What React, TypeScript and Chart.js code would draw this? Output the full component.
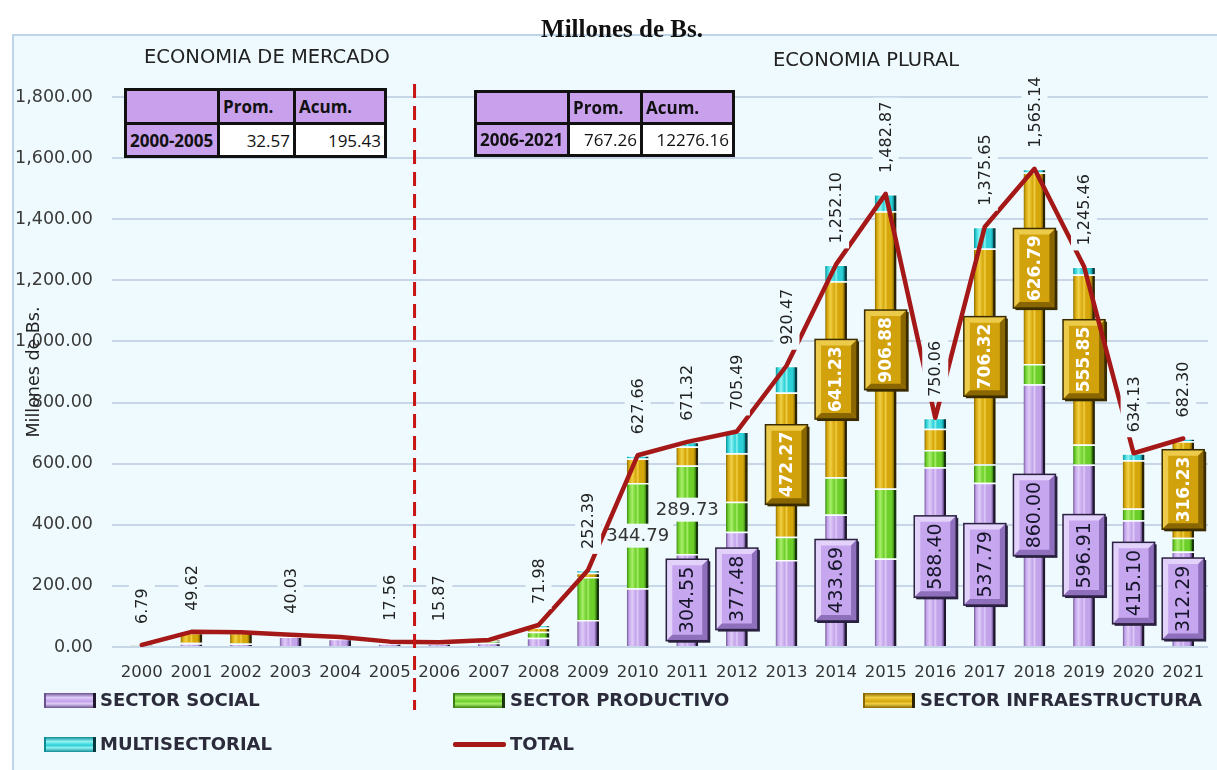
import React, { useEffect, useRef } from 'react';
import { Chart, registerables } from 'chart.js';

Chart.register(...registerables);

// ---------------- DATA ----------------
const years = ['2000', '2001', '2002', '2003', '2004', '2005', '2006', '2007', '2008', '2009', '2010',
  '2011', '2012', '2013', '2014', '2015', '2016', '2017', '2018', '2019', '2020', '2021'];

const sectorSocial = [4.5, 12, 10, 34, 27, 12, 12, 14, 30, 88, 192, 304.55, 377.48, 285, 433.69, 290,
  588.40, 537.79, 860.00, 596.91, 415.10, 312.29];
const sectorProductivo = [0.5, 2, 2, 1, 1, 1, 1, 6, 20, 141, 344.79, 289.73, 98, 76, 122, 229,
  56, 60, 66, 66, 38, 45];
const sectorInfraestructura = [1.5, 33, 35, 4, 4, 3, 2, 2, 14, 14, 80, 62, 159, 472.27, 641.23, 906.88,
  70, 706.32, 626.79, 555.85, 158, 316.23];
const multisectorial = [0.29, 2.62, 1.5, 1.03, 0.94, 1.56, 0.87, 1.27, 7.98, 9.39, 10.87, 15.04, 71.01, 87.2,
  55.18, 56.99, 35.66, 71.54, 12.35, 26.7, 23.03, 8.78];
const totalValues = [6.79, 49.62, 48.5, 40.03, 32.94, 17.56, 15.87, 23.27, 71.98, 252.39, 627.66, 671.32,
  705.49, 920.47, 1252.10, 1482.87, 750.06, 1375.65, 1565.14, 1245.46, 634.13, 682.30];

const yMin = 0;
const yMax = 1800;
const yStep = 200;

const socialLabelYears = ['2011', '2012', '2014', '2016', '2017', '2018', '2019', '2020', '2021'];
const infraLabelYears = ['2013', '2014', '2015', '2017', '2018', '2019', '2021'];
const productivoLabelYears = ['2010', '2011'];
const totalUnlabeledYears = ['2002', '2004', '2007'];

const tableHeaders = ['', 'Prom.', 'Acum.'];
const tableMercado = ['2000-2005', '32.57', '195.43'];
const tablePlural = ['2006-2021', '767.26', '12276.16'];

const seriesNames = ['SECTOR SOCIAL', 'SECTOR PRODUCTIVO', 'SECTOR INFRAESTRUCTURA', 'MULTISECTORIAL', 'TOTAL'];

// ---------------- STYLE ----------------
const BG = '#EEFAFD';
const LINE_RED = '#A51818';
const BAR_FRAC = 0.44;

type Pal = { dark: string; mid: string; light: string; edge: string };
const PAL: Record<string, Pal> = {
  social: { dark: '#6A5290', mid: '#C3A3EA', light: '#DFCCF8', edge: '#221830' },
  productivo: { dark: '#3A8512', mid: '#6DCF2A', light: '#AAEE6C', edge: '#17360A' },
  infra: { dark: '#8A6A00', mid: '#D5A70B', light: '#F1CF45', edge: '#2E2300' },
  multi: { dark: '#0E8C96', mid: '#2CD0D6', light: '#92F3F3', edge: '#063A3E' },
};

function fmt(v: number): string {
  const s = v.toFixed(2);
  const [i, d] = s.split('.');
  return i.replace(/\B(?=(\d{3})+(?!\d))/g, ',') + '.' + d;
}

function barGradient(p: Pal) {
  return (ctx: any) => {
    if (ctx.type !== 'data') return p.mid;
    const chart = ctx.chart;
    const xs = chart.scales && chart.scales.x;
    if (!xs || !chart.chartArea) return p.mid;
    const x = xs.getPixelForValue(ctx.dataIndex);
    const w = (xs.width / years.length) * BAR_FRAC;
    if (!isFinite(x) || !isFinite(w) || w <= 0) return p.mid;
    const g = chart.ctx.createLinearGradient(x - w / 2, 0, x + w / 2, 0);
    g.addColorStop(0, p.dark);
    g.addColorStop(0.1, p.mid);
    g.addColorStop(0.25, p.light);
    g.addColorStop(0.42, p.mid);
    g.addColorStop(0.5, p.light);
    g.addColorStop(0.58, p.mid);
    g.addColorStop(0.78, p.mid);
    g.addColorStop(0.88, p.dark);
    g.addColorStop(0.9, p.edge);
    g.addColorStop(1, p.edge);
    return g;
  };
}

function poly(ctx: CanvasRenderingContext2D, pts: number[][], color: string) {
  ctx.beginPath();
  ctx.moveTo(pts[0][0], pts[0][1]);
  for (let i = 1; i < pts.length; i++) ctx.lineTo(pts[i][0], pts[i][1]);
  ctx.closePath();
  ctx.fillStyle = color;
  ctx.fill();
}

function bevelBox(ctx: CanvasRenderingContext2D, cx: number, cy: number, w: number, h: number,
  face: string, light: string, dark: string, edge: string) {
  const x0 = cx - w / 2, y0 = cy - h / 2, x1 = cx + w / 2, y1 = cy + h / 2, b = 6;
  ctx.fillStyle = edge;
  ctx.fillRect(x0 + 2, y0 + 2, w, h);
  ctx.fillStyle = face;
  ctx.fillRect(x0, y0, w, h);
  poly(ctx, [[x0, y0], [x1, y0], [x1 - b, y0 + b], [x0 + b, y0 + b]], light);
  poly(ctx, [[x0, y0], [x0 + b, y0 + b], [x0 + b, y1 - b], [x0, y1]], light);
  poly(ctx, [[x0, y1], [x0 + b, y1 - b], [x1 - b, y1 - b], [x1, y1]], dark);
  poly(ctx, [[x1, y0], [x1, y1], [x1 - b, y1 - b], [x1 - b, y0 + b]], dark);
  ctx.strokeStyle = edge;
  ctx.lineWidth = 1.5;
  ctx.strokeRect(x0, y0, w, h);
}

function rotatedText(ctx: CanvasRenderingContext2D, txt: string, cx: number, cy: number) {
  ctx.save();
  ctx.translate(cx, cy);
  ctx.rotate(-Math.PI / 2);
  ctx.textAlign = 'center';
  ctx.textBaseline = 'middle';
  ctx.fillText(txt, 0, 1);
  ctx.restore();
}

const labelsPlugin = {
  id: 'customLabels',
  afterDatasetDraw(chart: any, args: any) {
    if (args.index !== 1) return; // social is the last bar dataset drawn
    const ctx: CanvasRenderingContext2D = chart.ctx;
    ctx.save();
    const mS = chart.getDatasetMeta(1);
    socialLabelYears.forEach((yr) => {
      const i = years.indexOf(yr);
      const el = mS.data[i];
      const { x, y, base } = el.getProps(['x', 'y', 'base'], true);
      const txt = sectorSocial[i].toFixed(2);
      ctx.font = '19px "DejaVu Sans"';
      const tw = ctx.measureText(txt).width;
      const cy = (y + base) / 2;
      bevelBox(ctx, x, cy, 42, tw + 15, '#C6A6EE', '#E3D2FA', '#8E6FBC', '#2A2040');
      ctx.fillStyle = '#16162A';
      rotatedText(ctx, txt, x, cy);
    });
    const mI = chart.getDatasetMeta(3);
    infraLabelYears.forEach((yr) => {
      const i = years.indexOf(yr);
      const el = mI.data[i];
      const { x, y, base } = el.getProps(['x', 'y', 'base'], true);
      const txt = sectorInfraestructura[i].toFixed(2);
      ctx.font = 'bold 17px "DejaVu Sans"';
      const tw = ctx.measureText(txt).width;
      const cy = (y + base) / 2;
      bevelBox(ctx, x, cy, 42, tw + 14, '#D2A20C', '#EDCB4A', '#8A6600', '#3A2C00');
      ctx.fillStyle = '#FFFFFF';
      rotatedText(ctx, txt, x, cy);
    });
    const mP = chart.getDatasetMeta(2);
    productivoLabelYears.forEach((yr) => {
      const i = years.indexOf(yr);
      const el = mP.data[i];
      const { x, y, base } = el.getProps(['x', 'y', 'base'], true);
      const txt = sectorProductivo[i].toFixed(2);
      ctx.font = '18px "DejaVu Sans"';
      const tw = ctx.measureText(txt).width;
      const cy = (y + base) / 2;
      ctx.fillStyle = BG;
      ctx.fillRect(x - tw / 2 - 4, cy - 12, tw + 8, 24);
      ctx.fillStyle = '#333333';
      ctx.textAlign = 'center';
      ctx.textBaseline = 'middle';
      ctx.fillText(txt, x, cy + 1);
    });
    ctx.restore();
  },
  afterDatasetsDraw(chart: any) {
    const ctx: CanvasRenderingContext2D = chart.ctx;
    ctx.save();
    const mT = chart.getDatasetMeta(0);
    ctx.font = '16px "DejaVu Sans"';
    mT.data.forEach((pt: any, i: number) => {
      if (totalUnlabeledYears.includes(years[i])) return;
      const txt = fmt(totalValues[i]);
      const tw = ctx.measureText(txt).width;
      const bottom = pt.y - 21;
      ctx.fillStyle = BG;
      ctx.fillRect(pt.x - 13, bottom - tw - 4, 26, tw + 9);
      ctx.fillStyle = '#222222';
      rotatedText(ctx, txt, pt.x, bottom - tw / 2);
    });
    ctx.restore();
  },
  afterDraw(chart: any) {
    const ctx: CanvasRenderingContext2D = chart.ctx;
    const xs = chart.scales.x;
    const x = (xs.getPixelForValue(years.indexOf('2005')) + xs.getPixelForValue(years.indexOf('2006'))) / 2;
    ctx.save();
    ctx.strokeStyle = '#C81414';
    ctx.lineWidth = 3;
    ctx.setLineDash([14, 8]);
    ctx.beginPath();
    ctx.moveTo(x, 84);
    ctx.lineTo(x, 710);
    ctx.stroke();
    ctx.restore();
  },
};

function StatTable({ x, y, cols, rows, data }: { x: number; y: number; cols: number[]; rows: number[]; data: string[] }) {
  const lav = '#C9A0EC';
  const cell = (content: string, bg: string, bold: boolean, align: 'left' | 'right', key: string) => (
    <div key={key} style={{
      background: bg, display: 'flex', alignItems: 'center',
      justifyContent: align === 'left' ? 'flex-start' : 'flex-end',
      padding: '0 3px', fontWeight: bold ? 700 : 400, whiteSpace: 'nowrap', overflow: 'hidden',
    }}>{content}</div>
  );
  return (
    <div style={{
      position: 'absolute', left: x, top: y, display: 'grid',
      gridTemplateColumns: cols.map((c) => c + 'px').join(' '),
      gridTemplateRows: rows.map((r) => r + 'px').join(' '),
      gap: 3, padding: 3, background: '#111111',
      fontFamily: '"Open Sans", sans-serif', fontSize: 17, color: '#111111', lineHeight: 1,
    }}>
      {tableHeaders.map((h, i) => cell(h, lav, true, 'left', 'h' + i))}
      {data.map((d, i) => cell(d, i === 0 ? lav : '#FFFFFF', i === 0, i === 0 ? 'left' : 'right', 'd' + i))}
    </div>
  );
}

function Swatch({ x, y, p }: { x: number; y: number; p: Pal }) {
  return (
    <div style={{
      position: 'absolute', left: x, top: y, width: 52, height: 15, boxSizing: 'border-box',
      background: `linear-gradient(to bottom, ${p.dark} 0%, ${p.light} 30%, ${p.mid} 55%, ${p.light} 72%, ${p.dark} 100%)`,
      borderRight: `3px solid ${p.edge}`, borderLeft: `2px solid ${p.dark}`,
    }} />
  );
}

const legendText: React.CSSProperties = {
  position: 'absolute', fontFamily: '"DejaVu Sans", sans-serif', fontWeight: 700, fontSize: 18,
  color: '#2B2B3B', lineHeight: '22px', whiteSpace: 'nowrap',
};

export default function App() {
  const ref = useRef<HTMLCanvasElement>(null);

  useEffect(() => {
    document.body.style.margin = '0';
    const canvas = ref.current;
    if (!canvas) return;
    const chart = new Chart(canvas, {
      type: 'bar',
      data: {
        labels: years,
        datasets: [
          {
            type: 'line', label: seriesNames[4], data: totalValues, borderColor: LINE_RED,
            backgroundColor: LINE_RED, borderWidth: 4.5, pointRadius: 0, tension: 0, order: 0,
            borderCapStyle: 'round', borderJoinStyle: 'round',
          } as any,
          {
            label: seriesNames[0], data: sectorSocial, backgroundColor: barGradient(PAL.social),
            borderColor: 'rgba(255,255,255,0.85)', borderWidth: { top: 1.5, left: 0, right: 0, bottom: 0 },
            borderSkipped: false, stack: 'sectores', order: 1,
          } as any,
          {
            label: seriesNames[1], data: sectorProductivo, backgroundColor: barGradient(PAL.productivo),
            borderColor: 'rgba(255,255,255,0.85)', borderWidth: { top: 1.5, left: 0, right: 0, bottom: 0 },
            borderSkipped: false, stack: 'sectores', order: 1,
          } as any,
          {
            label: seriesNames[2], data: sectorInfraestructura, backgroundColor: barGradient(PAL.infra),
            borderColor: 'rgba(255,255,255,0.85)', borderWidth: { top: 1.5, left: 0, right: 0, bottom: 0 },
            borderSkipped: false, stack: 'sectores', order: 1,
          } as any,
          {
            label: seriesNames[3], data: multisectorial, backgroundColor: barGradient(PAL.multi),
            borderColor: 'rgba(255,255,255,0.85)', borderWidth: { top: 1.5, left: 0, right: 0, bottom: 0 },
            borderSkipped: false, stack: 'sectores', order: 1,
          } as any,
        ],
      },
      options: {
        animation: false,
        responsive: false,
        maintainAspectRatio: false,
        layout: { padding: { left: 12, right: 9, top: 97, bottom: 83 } },
        datasets: { bar: { barPercentage: BAR_FRAC, categoryPercentage: 1 } },
        plugins: { legend: { display: false }, tooltip: { enabled: false }, title: { display: false } },
        scales: {
          x: {
            stacked: true,
            grid: { display: false },
            border: { display: false },
            ticks: {
              autoSkip: false, maxRotation: 0, padding: 8, color: '#333333',
              font: { family: '"DejaVu Sans"', size: 16.5 },
            },
            afterFit: (s: any) => { s.height = 40; },
          },
          y: {
            stacked: true,
            min: yMin,
            max: yMax,
            ticks: {
              stepSize: yStep, padding: 19, color: '#3A3A3A',
              font: { family: '"DejaVu Sans"', size: 17.5 },
              callback: (v: any) => fmt(Number(v)),
            },
            grid: { color: '#C7D7E8', lineWidth: 2, drawTicks: true, tickLength: 5 },
            border: { display: false },
            afterFit: (s: any) => { s.width = 105; },
          },
        },
      } as any,
      plugins: [labelsPlugin],
    });
    return () => chart.destroy();
  }, []);

  return (
    <div style={{ position: 'relative', width: 1217, height: 770, background: '#FFFFFF', overflow: 'hidden' }}>
      <div style={{
        position: 'absolute', left: 12, top: 34, width: 1220, height: 750, background: BG,
        borderLeft: '2px solid #BED5E9', borderTop: '2px solid #BED5E9',
      }} />
      <canvas ref={ref} width={1217} height={770}
        style={{ position: 'absolute', left: 0, top: 0, width: 1217, height: 770 }} />

      <div style={{
        position: 'absolute', left: 472, top: 15, width: 300, textAlign: 'center',
        fontFamily: '"Liberation Serif", serif', fontWeight: 700, fontSize: 25, lineHeight: '28px', color: '#111',
      }}>Millones de Bs.</div>

      <div style={{
        position: 'absolute', left: 117, top: 45, width: 300, textAlign: 'center',
        fontFamily: '"DejaVu Sans", sans-serif', fontSize: 19.5, lineHeight: '24px', color: '#222',
      }}>ECONOMIA DE MERCADO</div>
      <div style={{
        position: 'absolute', left: 716, top: 48, width: 300, textAlign: 'center',
        fontFamily: '"DejaVu Sans", sans-serif', fontSize: 19.5, lineHeight: '24px', color: '#222',
      }}>ECONOMIA PLURAL</div>

      <div style={{
        position: 'absolute', left: 33 - 100, top: 372 - 12, width: 200, height: 24, lineHeight: '24px',
        textAlign: 'center', transform: 'rotate(-90deg)',
        fontFamily: '"DejaVu Sans", sans-serif', fontSize: 17.5, color: '#222',
      }}>Millones de Bs.</div>

      <StatTable x={124} y={88} cols={[90, 73, 88]} rows={[31, 30]} data={tableMercado} />
      <StatTable x={474} y={90} cols={[90, 70, 89]} rows={[29, 29]} data={tablePlural} />

      <Swatch x={44} y={693} p={PAL.social} />
      <div style={{ ...legendText, left: 100, top: 689 }}>{seriesNames[0]}</div>
      <Swatch x={453} y={693} p={PAL.productivo} />
      <div style={{ ...legendText, left: 510, top: 689 }}>{seriesNames[1]}</div>
      <Swatch x={863} y={693} p={PAL.infra} />
      <div style={{ ...legendText, left: 920, top: 689 }}>{seriesNames[2]}</div>
      <Swatch x={44} y={737} p={PAL.multi} />
      <div style={{ ...legendText, left: 100, top: 733 }}>{seriesNames[3]}</div>
      <div style={{ position: 'absolute', left: 453, top: 742, width: 53, height: 5, background: LINE_RED, borderRadius: 2 }} />
      <div style={{ ...legendText, left: 510, top: 733 }}>{seriesNames[4]}</div>
    </div>
  );
}
